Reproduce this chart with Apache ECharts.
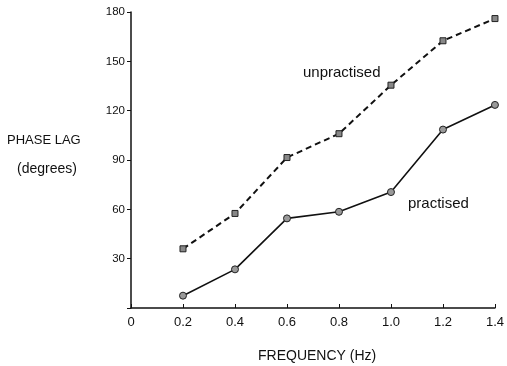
<!DOCTYPE html>
<html>
<head>
<meta charset="utf-8">
<script src="https://cdn.jsdelivr.net/npm/echarts@6/dist/echarts.min.js"></script>
<style>html,body{margin:0;padding:0;background:#fff;}#c{width:507px;height:366px;}</style>
</head>
<body>
<div id="c"></div>
<script>
var frequencies = [0.2, 0.4, 0.6, 0.8, 1.0, 1.2, 1.4];
var unpractised = [36, 57.5, 91.5, 106, 135.5, 162.5, 176];
var practised = [7.5, 23.5, 54.5, 58.5, 70.5, 108.5, 123.5];
var yTicks = [0, 30, 60, 90, 120, 150, 180];
var xTicks = [0, 0.2, 0.4, 0.6, 0.8, 1.0, 1.2, 1.4];

function pairs(xs, ys) { return xs.map(function (x, i) { return [x, ys[i]]; }); }

var font = 'Liberation Sans';
var chart = echarts.init(document.getElementById('c'), null, {renderer: 'canvas'});
chart.setOption({
  animation: false,
  backgroundColor: '#fff',
  grid: {left: 131, top: 12, right: 6, bottom: 58, containLabel: false},
  xAxis: {
    type: 'value', min: xTicks[0], max: xTicks[xTicks.length - 1], interval: 0.2,
    axisLine: {lineStyle: {color: '#111', width: 1.5}},
    axisTick: {inside: true, length: 4, lineStyle: {color: '#111'}},
    splitLine: {show: false},
    axisLabel: {color: '#111', fontFamily: font, fontSize: 13, margin: 8,
      formatter: function (v) { return v === 0 ? '0' : v.toFixed(1); }}
  },
  yAxis: {
    type: 'value', min: yTicks[0], max: yTicks[yTicks.length - 1], interval: 30,
    axisLine: {show: true, lineStyle: {color: '#111', width: 1.5}},
    axisTick: {show: true, length: 4, lineStyle: {color: '#111'}},
    splitLine: {show: false},
    axisLabel: {color: '#111', fontFamily: font, fontSize: 11.5, margin: 6,
      formatter: function (v) { return v === 0 ? '' : String(v); }}
  },
  series: [
    {
      name: 'unpractised', type: 'line', data: pairs(frequencies, unpractised),
      symbol: 'rect', symbolSize: 6,
      itemStyle: {color: '#888', borderColor: '#222', borderWidth: 1},
      lineStyle: {color: '#111', width: 2, type: [6, 4]}
    },
    {
      name: 'practised', type: 'line', data: pairs(frequencies, practised),
      symbol: 'circle', symbolSize: 7,
      itemStyle: {color: '#999', borderColor: '#222', borderWidth: 1},
      lineStyle: {color: '#111', width: 1.6}
    }
  ],
  graphic: [
    {type: 'text', left: 303, top: 65, style: {text: 'unpractised', font: '15px ' + font, fill: '#111'}},
    {type: 'text', left: 408, top: 196, style: {text: 'practised', font: '15px ' + font, fill: '#111'}},
    {type: 'text', left: 7, top: 134, style: {text: 'PHASE LAG', font: '13px ' + font, fill: '#111'}},
    {type: 'text', left: 17, top: 162, style: {text: '(degrees)', font: '14px ' + font, fill: '#111'}},
    {type: 'text', left: 258, top: 349, style: {text: 'FREQUENCY (Hz)', font: '14px ' + font, fill: '#111'}}
  ]
});
</script>
</body>
</html>
